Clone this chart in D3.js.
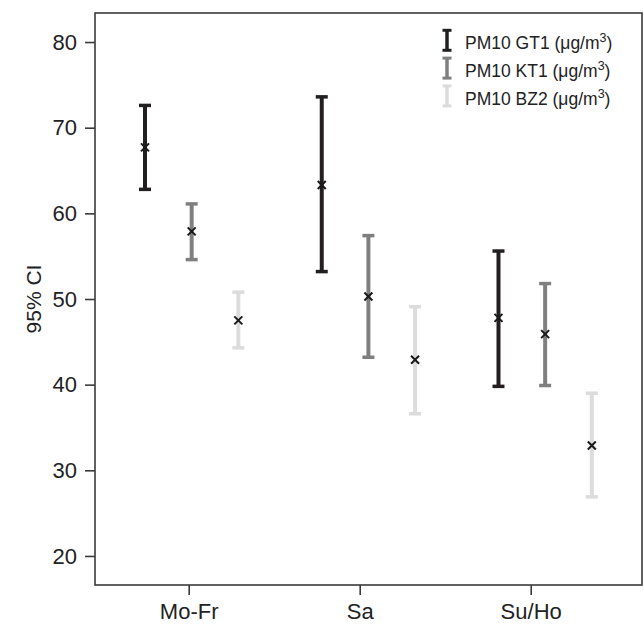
<!DOCTYPE html>
<html>
<head>
<meta charset="utf-8">
<script src="https://cdn.jsdelivr.net/npm/d3@7"></script>
<style>
  body { margin: 0; background: #fff; }
  svg { font-family: "Liberation Sans", Arial, sans-serif; }
</style>
</head>
<body>
<div id="chart"></div>
<script>
// Kategorije in serije
const days = ["Mo-Fr", "Sa", "Su/Ho"];
const series = ["PM10 GT1", "PM10 KT1", "PM10 BZ2"];
const colors = ["#231f20", "#7f7f7f", "#dcdcdc"];

// Povprečja in meje 95% CI (po serijah, za vsak dan)
const meanGT1 = [67.7, 63.3, 47.8];
const lowGT1  = [62.8, 53.2, 39.8];
const highGT1 = [72.6, 73.6, 55.6];

const meanKT1 = [57.9, 50.3, 45.9];
const lowKT1  = [54.6, 43.2, 39.9];
const highKT1 = [61.1, 57.4, 51.8];

const meanBZ2 = [47.5, 42.9, 32.9];
const lowBZ2  = [44.3, 36.6, 26.9];
const highBZ2 = [50.8, 49.1, 39.0];

const yTicks = [20, 30, 40, 50, 60, 70, 80];

const means = [meanGT1, meanKT1, meanBZ2];
const lows = [lowGT1, lowKT1, lowBZ2];
const highs = [highGT1, highKT1, highBZ2];

// Dimenzije
const W = 644, H = 624;
const mLeft = 95, mRight = 642, mTop = 13, mBottom = 585;

const svg = d3.select("#chart").append("svg")
    .attr("width", W).attr("height", H);

// Skale
const yScale = d3.scaleLinear().domain([16.61, 83.39]).range([mBottom, mTop]);
// položaj stolpcev: dan (1..3) + zamik serije
const xBar = d3.scaleLinear().domain([0.453, 3.548]).range([mLeft, mRight]);
const barStep = 0.264;
const xTick = d3.scalePoint().domain(days).range([188.7, 530.7]);

// Okvir
svg.append("rect")
    .attr("x", mLeft).attr("y", mTop)
    .attr("width", mRight - mLeft).attr("height", mBottom - mTop)
    .attr("fill", "none").attr("stroke", "#3a3a3a").attr("stroke-width", 1.6);

// Os y
const yAxis = svg.append("g")
    .attr("transform", `translate(${mLeft},0)`)
    .call(d3.axisLeft(yScale).tickValues(yTicks).tickSize(10).tickPadding(8));
yAxis.select(".domain").remove();
yAxis.selectAll("line").attr("stroke", "#3a3a3a").attr("stroke-width", 1.6);
yAxis.selectAll("text").attr("font-size", "22px").attr("fill", "#222")
    .attr("font-family", "Liberation Sans, Arial, sans-serif");

// Os x
const xAxis = svg.append("g")
    .attr("transform", `translate(0,${mBottom})`)
    .call(d3.axisBottom(xTick).tickSize(10).tickPadding(8));
xAxis.select(".domain").remove();
xAxis.selectAll("line").attr("stroke", "#3a3a3a").attr("stroke-width", 1.6);
xAxis.selectAll("text").attr("font-size", "22px").attr("fill", "#222")
    .attr("font-family", "Liberation Sans, Arial, sans-serif");

// Naslov osi y
svg.append("text")
    .attr("transform", `translate(41,${(mTop + mBottom) / 2}) rotate(-90)`)
    .attr("text-anchor", "middle")
    .attr("font-size", "21px").attr("fill", "#222")
    .text("95% CI");

// Intervali zaupanja
const capW = 6;
series.forEach((s, si) => {
    const g = svg.append("g");
    days.forEach((d, di) => {
        const cx = xBar(di + 1 + (si - 1) * barStep);
        const yl = yScale(lows[si][di]), yh = yScale(highs[si][di]);
        g.append("line")
            .attr("x1", cx).attr("x2", cx).attr("y1", yh).attr("y2", yl)
            .attr("stroke", colors[si]).attr("stroke-width", 4);
        [yl, yh].forEach(yy => {
            g.append("line")
                .attr("x1", cx - capW).attr("x2", cx + capW)
                .attr("y1", yy).attr("y2", yy)
                .attr("stroke", colors[si]).attr("stroke-width", 3.5);
        });
        // oznaka povprečja (x)
        const ym = yScale(means[si][di]), m = 4;
        g.append("path")
            .attr("d", `M${cx - m},${ym - m}L${cx + m},${ym + m}M${cx - m},${ym + m}L${cx + m},${ym - m}`)
            .attr("stroke", "#1a1a1a").attr("stroke-width", 2);
    });
});

// Legenda
const legend = svg.append("g").attr("transform", "translate(447,0)");
series.forEach((s, i) => {
    const base = 49.3 + i * 27.8;
    const lg = legend.append("g");
    lg.append("line").attr("x1", 0).attr("x2", 0).attr("y1", base - 19).attr("y2", base + 1)
        .attr("stroke", colors[i]).attr("stroke-width", 3.5);
    [base - 19, base + 1].forEach(yy => {
        lg.append("line").attr("x1", -4.5).attr("x2", 4.5).attr("y1", yy).attr("y2", yy)
            .attr("stroke", colors[i]).attr("stroke-width", 3);
    });
    const t = lg.append("text").attr("x", 18).attr("y", base)
        .attr("font-size", "17.5px").attr("fill", "#222");
    t.append("tspan").text(s + " (\u03bcg/m");
    t.append("tspan").attr("dy", -7).attr("font-size", "12.5px").text("3");
    t.append("tspan").attr("dy", 7).text(")");
});
</script>
</body>
</html>
